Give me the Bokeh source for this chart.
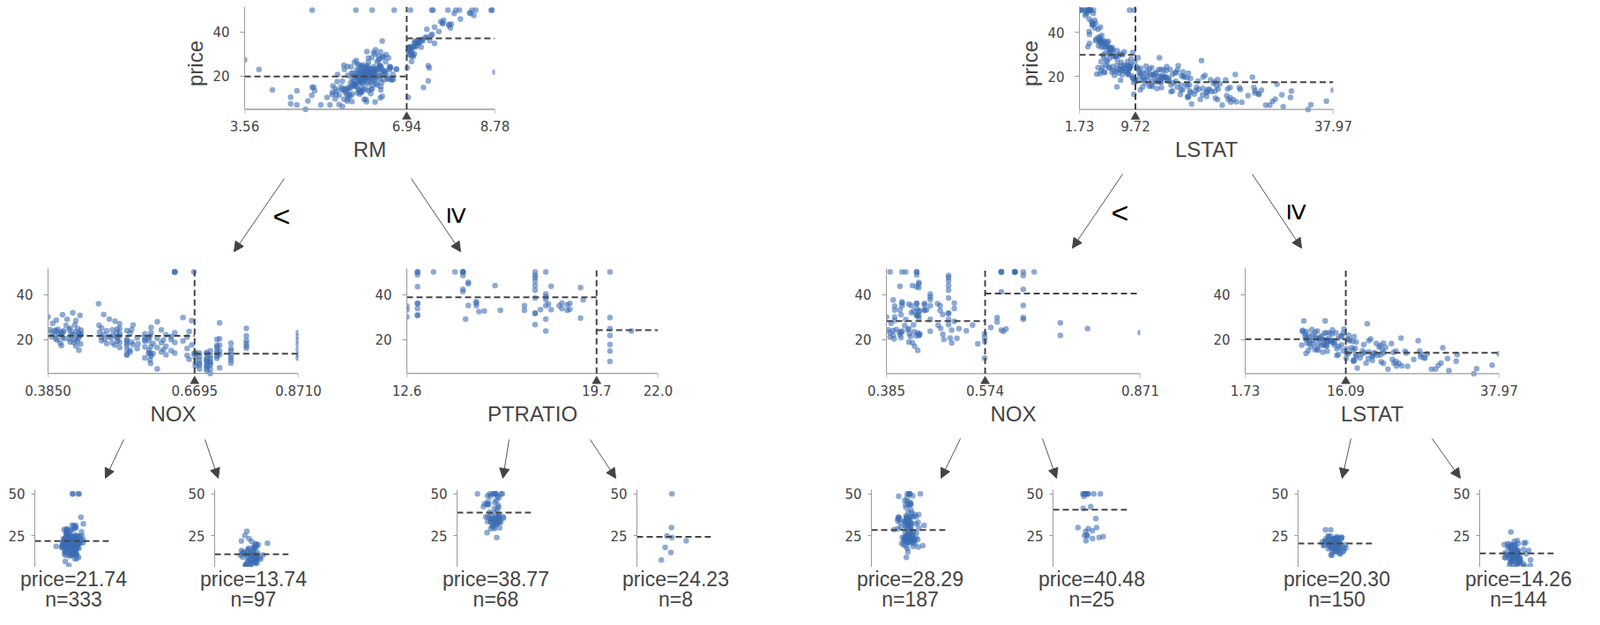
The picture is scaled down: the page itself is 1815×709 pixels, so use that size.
import numpy as np
from bokeh.plotting import figure
from bokeh.models import (Range1d, FixedTicker, PrintfTickFormatter, Spacer,
                          Arrow, NormalHead, ColumnDataSource)
from bokeh.layouts import row, column
from bokeh.transform import jitter
from bokeh.embed import file_html
from bokeh.resources import INLINE
from bokeh.core.properties import value

# ------------------------------------------------------------------ data
# records read/estimated from the scatter panels (RM, LSTAT, NOX, PTRATIO, price)
# group 1: houses with RM >= 6.94
r1_rm = [7.52, 7.24, 7.10, 8.70, 8.30, 8.25, 7.82, 7.42, 7.27, 7.15, 7.05, 6.98,
         7.96, 8.04, 7.49, 7.80, 8.38, 7.93, 7.52, 7.36, 7.05, 7.71, 7.65, 7.18,
         7.27, 7.20, 7.10, 7.00, 7.03, 7.69, 7.02, 7.16, 6.99, 7.46, 8.27, 8.34,
         8.06, 7.69, 7.85, 7.45, 7.02, 6.97, 7.04, 7.12, 8.72, 7.61, 7.47, 7.36,
         7.19, 7.08, 6.95, 7.11, 7.87, 7.08, 7.15, 7.24, 7.09, 7.20, 7.02, 7.15,
         7.00, 7.82, 7.00, 7.33, 7.02, 7.04, 7.39, 8.78, 7.39, 7.29, 6.97, 7.41]
r1_lstat = [3.16, 4.85, 5.98, 2.47, 3.13, 2.88, 3.57, 4.61, 5.05, 4.45, 6.05, 5.50,
            2.97, 3.26, 1.73, 1.92, 3.32, 3.70, 4.73, 4.40, 6.58, 3.92, 3.45, 5.71,
            4.10, 4.70, 5.49, 6.27, 5.90, 3.60, 6.12, 5.04, 6.41, 2.60, 2.65, 2.56,
            3.11, 4.03, 3.92, 4.92, 6.53, 7.11, 8.61, 5.42, 1.98, 3.11, 3.16, 4.65,
            4.97, 6.90, 8.97, 5.85, 3.66, 5.24, 4.81, 4.74, 5.68, 4.59, 6.04, 4.03,
            2.94, 3.57, 7.44, 4.38, 2.96, 5.12, 7.62, 5.29, 12.12, 13.44, 17.21, 6.02]
r1_nox = [0.401, 0.401, 0.401, 0.443, 0.443, 0.443, 0.443, 0.443, 0.443, 0.443, 0.443, 0.443,
          0.422, 0.415, 0.605, 0.605, 0.605, 0.647, 0.647, 0.605, 0.647, 0.447, 0.447, 0.647,
          0.415, 0.415, 0.415, 0.447, 0.437, 0.435, 0.448, 0.488, 0.488, 0.647, 0.504, 0.504,
          0.504, 0.504, 0.504, 0.504, 0.504, 0.504, 0.504, 0.462, 0.392, 0.469, 0.469, 0.469,
          0.469, 0.469, 0.469, 0.428, 0.411, 0.411, 0.433, 0.515, 0.515, 0.458, 0.458, 0.458,
          0.458, 0.447, 0.447, 0.398, 0.631, 0.597, 0.614, 0.718, 0.679, 0.700, 0.693, 0.609]
r1_ptratio = [12.6, 12.6, 12.6, 13.0, 13.0, 13.0, 13.0, 13.0, 13.0, 13.0, 13.0, 13.0,
              13.6, 14.4, 14.7, 14.7, 14.7, 14.7, 14.7, 14.7, 14.8, 14.9, 14.9, 14.9,
              15.2, 15.2, 15.2, 15.3, 15.5, 15.9, 16.1, 17.0, 17.0, 17.4, 17.4, 17.4,
              17.4, 17.4, 17.4, 17.4, 17.4, 17.4, 17.4, 17.6, 17.8, 17.8, 17.8, 17.8,
              17.8, 17.8, 17.8, 17.9, 18.0, 18.0, 18.3, 18.4, 18.4, 18.6, 18.6, 18.7,
              18.7, 19.1, 19.1, 19.2, 20.2, 20.2, 20.2, 20.2, 20.2, 20.2, 20.2, 21.0]
r1_price = [34.9, 33.2, 30.1, 50.0, 50.0, 48.8, 43.5, 36.2, 36.0, 33.8, 31.0, 30.7,
            50.0, 50.0, 50.0, 50.0, 50.0, 48.5, 42.3, 41.3, 29.1, 45.4, 44.8, 35.2,
            36.8, 36.3, 35.1, 32.4, 32.7, 44.0, 33.0, 35.1, 33.0, 50.0, 48.5, 47.6,
            46.0, 44.0, 41.9, 38.5, 31.9, 31.6, 26.7, 33.3, 50.0, 40.3, 39.0, 37.7,
            35.1, 29.1, 23.8, 35.8, 43.7, 33.3, 35.1, 36.3, 33.8, 35.5, 33.0, 36.1,
            33.4, 43.1, 29.6, 37.6, 50.0, 29.8, 24.8, 21.9, 17.9, 14.9, 10.4, 23.8]

# group 2: RM < 6.94 and NOX < 0.6695
r2_rm = [6.28, 6.58, 6.73, 5.96, 6.35, 6.17, 6.09, 6.52, 6.60, 6.44,
         5.89, 6.00, 6.05, 6.66, 6.23, 6.20, 6.12, 6.39, 6.47, 6.31,
         6.00, 6.10, 6.14, 6.45, 6.40, 6.33, 6.55, 5.95, 6.27, 5.82,
         6.29, 5.93, 6.63, 6.50, 5.88, 6.16, 6.42, 6.21, 6.03, 5.79,
         6.12, 6.20, 6.36, 6.40, 6.25, 6.48, 5.86, 6.07, 6.60, 5.98,
         6.43, 5.85, 6.72, 6.24, 6.30, 6.03, 6.11, 6.50, 5.92, 6.62,
         6.41, 6.27, 6.35, 6.65, 6.54, 5.78, 6.08, 6.14, 5.97, 6.19,
         6.17, 6.38, 6.06, 6.00, 5.90, 5.89, 6.12, 6.37, 6.01, 5.63,
         5.99, 6.25, 5.83, 6.05, 5.71, 5.82, 6.10, 5.94, 5.57, 6.58,
         5.76, 6.18, 5.70, 5.95, 6.32, 6.32, 5.88, 6.06, 6.45, 6.14,
         6.23, 5.81, 6.07, 6.02, 6.04, 5.50, 5.87, 5.91, 5.72, 5.66,
         6.42, 6.09, 6.14, 5.64, 5.77, 5.92, 5.39, 6.27, 5.58, 4.65,
         6.12, 5.85, 6.38, 5.69, 6.01, 6.25, 5.80, 6.15, 5.93, 6.30,
         5.48, 6.05, 5.75, 6.19, 5.61, 6.10, 3.86, 4.97, 6.68, 6.22,
         5.88, 6.51, 6.02, 5.87, 6.20, 5.65, 6.33, 5.53, 5.97, 6.56, 4.14]
r2_lstat = [7.56, 6.48, 7.20, 4.69, 5.57, 8.44, 5.90, 6.72, 9.88, 5.21,
            11.34, 9.04, 10.21, 10.56, 8.81, 12.60, 6.92, 8.12, 4.21, 7.73,
            4.38, 11.85, 7.69, 6.86, 8.96, 10.39, 9.43, 5.47, 6.57, 7.35,
            6.17, 14.10, 9.69, 4.82, 12.34, 8.01, 9.47, 13.15, 5.29, 10.97,
            15.84, 13.61, 7.47, 7.08, 9.33, 8.65, 11.48, 6.36, 9.95, 4.85,
            5.33, 5.70, 11.72, 10.55, 13.98, 7.10, 6.38, 8.20, 9.18, 12.86,
            12.04, 10.29, 6.92, 8.67, 9.71, 8.34, 16.50, 6.05, 9.80, 14.67,
            12.43, 11.25, 17.10, 7.83, 15.71, 19.15, 29.93, 13.45, 12.67, 8.10,
            14.80, 20.45, 11.69, 16.30, 18.35, 21.02, 4.98, 16.65, 10.74, 13.04,
            12.80, 17.58, 14.19, 18.66, 9.63, 11.98, 15.03, 7.60, 7.79, 8.68,
            13.28, 9.50, 9.32, 20.85, 16.47, 23.97, 12.13, 14.33, 17.32, 18.76,
            15.39, 21.45, 26.82, 13.77, 11.10, 9.04, 19.88, 22.60, 10.42, 28.90,
            12.27, 16.94, 9.10, 19.37, 14.52, 8.85, 17.12, 13.91, 15.10, 11.32,
            21.08, 12.90, 18.46, 10.88, 20.31, 14.10, 13.33, 3.26, 3.73, 9.53,
            8.88, 7.90, 13.61, 16.22, 11.76, 19.92, 10.50, 22.74, 15.49, 10.10, 37.97]
r2_nox = [0.385, 0.389, 0.392, 0.392, 0.394, 0.398, 0.398, 0.400, 0.401, 0.401,
          0.403, 0.404, 0.405, 0.409, 0.410, 0.411, 0.411, 0.413, 0.413, 0.414,
          0.415, 0.417, 0.420, 0.422, 0.426, 0.426, 0.428, 0.428, 0.429, 0.431,
          0.433, 0.433, 0.435, 0.437, 0.437, 0.438, 0.439, 0.439, 0.442, 0.442,
          0.443, 0.444, 0.445, 0.445, 0.447, 0.447, 0.448, 0.448, 0.449, 0.449,
          0.483, 0.484, 0.485, 0.488, 0.489, 0.489, 0.493, 0.493, 0.495, 0.499,
          0.499, 0.503, 0.504, 0.507, 0.510, 0.510, 0.511, 0.515, 0.515, 0.518,
          0.518, 0.519, 0.520, 0.520, 0.524, 0.524, 0.524, 0.524, 0.524, 0.524,
          0.538, 0.538, 0.538, 0.538, 0.538, 0.538, 0.538, 0.538, 0.544, 0.544,
          0.544, 0.547, 0.547, 0.550, 0.550, 0.558, 0.558, 0.560, 0.573, 0.573,
          0.573, 0.573, 0.573, 0.573, 0.580, 0.580, 0.581, 0.581, 0.583, 0.583,
          0.583, 0.584, 0.584, 0.585, 0.585, 0.585, 0.585, 0.589, 0.589, 0.597,
          0.597, 0.597, 0.597, 0.605, 0.605, 0.605, 0.609, 0.609, 0.614, 0.614,
          0.614, 0.624, 0.624, 0.624, 0.631, 0.631, 0.631, 0.631, 0.631, 0.631,
          0.668, 0.647, 0.647, 0.655, 0.655, 0.655, 0.659, 0.659, 0.664, 0.664, 0.668]
r2_ptratio = [19.7, 19.2, 18.3, 18.3, 18.6, 19.7, 19.7, 17.9, 17.9, 15.6,
              17.3, 16.9, 16.9, 17.9, 18.6, 18.0, 18.0, 16.9, 16.0, 16.0,
              18.4, 18.5, 18.7, 18.4, 17.8, 17.8, 17.8, 18.4, 18.2, 18.2,
              16.6, 16.6, 16.0, 15.8, 15.8, 15.5, 16.4, 16.4, 18.4, 18.4,
              17.8, 16.8, 16.8, 18.6, 18.6, 18.7, 18.7, 19.1, 19.1, 19.1,
              17.8, 17.8, 17.8, 17.4, 17.4, 17.4, 19.2, 19.2, 19.2, 19.6,
              19.6, 18.4, 17.4, 17.4, 18.6, 18.6, 18.6, 18.6, 18.6, 16.6,
              16.6, 16.6, 20.9, 20.9, 15.2, 15.2, 15.2, 15.2, 15.2, 15.2,
              21.0, 21.0, 21.0, 21.0, 21.0, 21.0, 15.3, 21.0, 18.4, 18.4,
              18.4, 17.8, 17.8, 17.8, 16.4, 16.4, 16.4, 16.4, 21.0, 21.0,
              21.0, 21.0, 21.0, 21.0, 20.2, 20.2, 19.1, 19.1, 20.2, 20.2,
              20.2, 20.2, 20.2, 20.2, 20.2, 20.2, 20.2, 20.2, 20.2, 20.2,
              20.2, 20.2, 20.2, 20.2, 20.2, 14.7, 20.2, 20.2, 20.2, 20.2,
              20.2, 20.2, 20.2, 20.2, 20.2, 20.2, 20.2, 20.2, 20.2, 20.2,
              20.2, 20.2, 20.2, 20.2, 20.2, 20.2, 20.2, 20.2, 20.2, 20.2, 20.2]
r2_price = [30.1, 24.4, 23.1, 21.2, 27.3, 22.0, 24.1, 20.4, 23.8, 28.6,
            19.8, 24.6, 22.9, 18.5, 23.4, 17.4, 22.2, 31.1, 21.0, 23.3,
            23.9, 20.5, 26.3, 29.0, 24.5, 20.3, 19.0, 25.0, 22.7, 21.4,
            32.0, 22.5, 18.7, 26.6, 20.0, 23.6, 17.2, 28.4, 21.7, 19.4,
            24.8, 20.6, 23.0, 15.3, 30.8, 22.1, 18.1, 21.9, 24.2, 22.6,
            36.0, 26.4, 23.3, 21.1, 19.5, 25.1, 31.2, 22.4, 20.2, 18.3,
            23.9, 21.5, 29.1, 20.8, 18.6, 24.3, 22.0, 28.2, 17.6, 23.1,
            21.2, 24.6, 19.3, 20.7, 22.9, 27.1, 16.5, 18.9, 21.7, 25.0,
            13.1, 18.4, 15.6, 20.2, 13.6, 17.5, 24.0, 19.6, 15.2, 23.0,
            14.5, 19.0, 24.4, 17.8, 26.5, 16.0, 20.8, 18.2, 22.6, 21.0,
            19.9, 11.9, 19.3, 16.8, 14.0, 20.8, 15.4, 19.5, 11.0, 14.2,
            21.6, 9.5, 13.5, 23.1, 17.0, 25.4, 12.7, 18.3, 13.9, 7.0,
            20.6, 16.5, 27.9, 14.6, 18.7, 24.3, 15.6, 19.8, 17.1, 22.2,
            13.3, 20.0, 15.1, 21.4, 14.1, 18.8, 23.1, 50.0, 50.0, 50.0,
            50.0, 29.8, 19.4, 16.1, 21.2, 13.0, 23.6, 11.3, 17.7, 28.4, 13.8]

# group 3: RM < 6.94 and NOX >= 0.6695 (one line per NOX level)
r3_rm = [6.13, 5.79, 6.15, 5.60, 5.40, 5.02, 5.47,
         6.38, 6.25, 6.11, 5.98, 6.03, 5.85,
         6.46, 6.23, 6.00, 5.94, 6.19, 5.76, 5.63,
         3.56, 5.71, 5.49, 4.97, 4.65, 4.52,
         6.38, 6.14, 6.31, 5.90, 6.08, 6.00, 5.75,
         5.00, 5.99, 5.39, 5.28, 4.88, 5.15, 4.83, 5.45,
         5.45, 5.68, 4.52, 4.96, 5.80, 5.95, 5.60, 6.39, 5.53, 6.10,
         6.20, 5.92, 6.43, 5.70, 5.34, 6.05,
         6.22, 6.40, 5.96, 5.71, 6.28]
r3_lstat = [8.79, 17.28, 26.42, 14.44, 21.32, 15.02, 16.14,
            8.54, 15.55, 19.37, 10.88, 13.35, 17.44,
            21.46, 14.81, 24.56, 17.50, 27.26, 19.88, 22.98,
            7.12, 19.65, 13.02, 23.24, 31.99, 17.73,
            16.59, 13.30, 21.78, 15.70, 24.71, 17.60, 19.31,
            26.64, 20.62, 30.62, 23.24, 36.98, 28.32, 34.37, 29.68,
            22.89, 18.13, 31.85, 25.79, 24.10, 27.71, 30.81, 21.14, 34.77, 23.34,
            20.08, 26.77, 17.16, 29.29, 22.11, 23.69,
            21.52, 16.23, 27.38, 18.98, 24.91]
r3_nox = [0.871, 0.871, 0.871, 0.871, 0.871, 0.871, 0.871,
          0.770, 0.770, 0.770, 0.770, 0.770, 0.770,
          0.740, 0.740, 0.740, 0.740, 0.740, 0.740, 0.740,
          0.718, 0.718, 0.718, 0.718, 0.718, 0.718,
          0.713, 0.713, 0.713, 0.713, 0.713, 0.713, 0.713,
          0.700, 0.700, 0.700, 0.700, 0.700, 0.700, 0.700, 0.700,
          0.693, 0.693, 0.693, 0.693, 0.693, 0.693, 0.693, 0.693, 0.693, 0.693,
          0.679, 0.679, 0.679, 0.679, 0.679, 0.679,
          0.671, 0.671, 0.671, 0.671, 0.671]
r3_ptratio = [14.7, 14.7, 14.7, 14.7, 14.7, 14.7, 14.7,
              20.2, 20.2, 20.2, 20.2, 20.2, 20.2,
              20.2, 20.2, 20.2, 20.2, 20.2, 20.2, 20.2,
              20.2, 20.2, 20.2, 20.2, 20.2, 20.2,
              20.2, 20.2, 20.2, 20.2, 20.2, 20.2, 20.2,
              20.2, 20.2, 20.2, 20.2, 20.2, 20.2, 20.2, 20.2,
              20.2, 20.2, 20.2, 20.2, 20.2, 20.2, 20.2, 20.2, 20.2, 20.2,
              20.2, 20.2, 20.2, 20.2, 20.2, 20.2,
              20.2, 20.2, 20.2, 20.2, 20.2]
r3_price = [23.2, 21.4, 19.6, 17.8, 15.6, 13.4, 11.8,
            25.0, 21.7, 19.6, 18.4, 17.2, 16.2,
            18.5, 16.1, 14.9, 13.4, 12.1, 10.9, 9.6,
            27.5, 20.4, 17.6, 15.0, 13.4, 7.5,
            20.1, 17.5, 16.7, 15.2, 14.1, 12.7, 11.7,
            15.0, 13.1, 11.7, 10.4, 8.8, 7.0, 5.0, 9.7,
            14.4, 12.0, 10.5, 11.3, 8.5, 13.8, 6.3, 10.2, 7.2, 8.4,
            14.1, 12.5, 10.9, 8.7, 7.0, 9.5,
            14.3, 13.8, 11.9, 9.6, 8.3]

# tree structure shown in the picture
features = ["RM", "NOX", "PTRATIO", "LSTAT"]
feature_lo = [3.561, 0.385, 12.6, 1.73]
feature_hi = [8.78, 0.871, 22.0, 37.97]
split_values = [6.94, 0.6695, 19.7, 9.72, 0.574, 16.09]   # RM, NOX, PTRATIO | LSTAT, NOX, LSTAT
leaf_means = [21.74, 13.74, 38.77, 24.23, 28.29, 40.48, 20.30, 14.26]
leaf_counts = [333, 97, 68, 8, 187, 25, 150, 144]
edge_labels = ["<", "\u2265"]
y_ticks_node = [20, 40]
y_ticks_leaf = [25, 50]

# ------------------------------------------------------------------ arrays
def cat(a, b, c):
    return np.array(a + b + c, dtype=float)

rm = cat(r1_rm, r2_rm, r3_rm)
lstat = cat(r1_lstat, r2_lstat, r3_lstat)
nox = cat(r1_nox, r2_nox, r3_nox)
ptratio = cat(r1_ptratio, r2_ptratio, r3_ptratio)
price = cat(r1_price, r2_price, r3_price)
N = min(len(rm), len(lstat), len(nox), len(ptratio), len(price))
rm, lstat, nox, ptratio, price = rm[:N], lstat[:N], nox[:N], ptratio[:N], price[:N]

# ------------------------------------------------------------------ style
BLUE = "#3b6cb3"
DARK = "#444444"
AXIS = "#9b9b9b"
LABEL_FONT = "Liberation Sans"
TICK_FONT = "DejaVu Sans"
Y_LO, Y_HI = 5.0, 51.6
LEAF_LO, LEAF_HI = 6.0, 52.5
PT_SIZE = 6.5
PT_ALPHA = 0.58
DASH = "7 4"
EXT = 13          # px below the x axis line kept inside the frame (split marker)


def base_fig(width, height, border, x_range, y_range, x_axis=True):
    bl, br, bt, bb = border
    p = figure(width=width, height=height,
               x_range=x_range, y_range=y_range,
               min_border_left=bl, min_border_right=br,
               min_border_top=bt, min_border_bottom=bb,
               toolbar_location=None, output_backend="svg",
               x_axis_location="below" if x_axis else None,
               outline_line_color=None, background_fill_color="white",
               border_fill_color="white")
    p.grid.visible = False
    for ax in p.axis:
        ax.axis_line_color = AXIS
        ax.axis_line_width = 1
        ax.major_tick_line_color = AXIS
        ax.minor_tick_line_color = None
        ax.major_tick_out = 5
        ax.major_tick_in = 0
        ax.major_label_text_font = TICK_FONT
        ax.major_label_text_font_size = "15px"
        ax.major_label_text_color = DARK
        ax.axis_label_text_font = LABEL_FONT
        ax.axis_label_text_font_size = "24px"
        ax.axis_label_text_font_style = "normal"
        ax.axis_label_text_color = DARK
    p.yaxis.major_label_standoff = 12
    return p


def split_panel(xv, yv, frame, border, fi, split, m_left, m_right, fmt, ylabel=None):
    lo, hi = feature_lo[fi], feature_hi[fi]
    fx, fy, fw, fh = frame
    bl, br, bt, bb = border
    ppu = fh / (Y_HI - Y_LO)
    y_start = Y_LO - EXT / ppu
    p = base_fig(fw + bl + br, fh + bt + bb, (bl, br, bt, bb - EXT),
                 Range1d(lo, hi), Range1d(y_start, Y_HI))
    p.scatter(xv, yv, size=PT_SIZE, fill_color=BLUE, fill_alpha=PT_ALPHA, line_color=None)
    # x axis line and end ticks
    p.segment(x0=[lo, lo, hi], y0=[Y_LO, Y_LO, Y_LO],
              x1=[hi, lo, hi], y1=[Y_LO, Y_LO - 5 / ppu, Y_LO - 5 / ppu],
              line_color=AXIS, line_width=1.3)
    # split and child means
    p.segment(x0=[split, lo, split], y0=[Y_LO, m_left, m_right],
              x1=[split, split, hi], y1=[Y_HI, m_left, m_right],
              line_color=DARK, line_width=2, line_dash=DASH)
    p.scatter([split], [Y_LO - 8.8 / ppu], marker="triangle", size=10,
              fill_color=DARK, line_color=DARK, line_width=0.5)
    p.xaxis.axis_line_color = None
    p.xaxis.major_tick_line_color = None
    p.xaxis.major_tick_out = 0
    p.xaxis.ticker = FixedTicker(ticks=[lo, split, hi])
    p.xaxis.formatter = PrintfTickFormatter(format=fmt)
    p.xaxis.major_label_standoff = 0
    p.xaxis.axis_label = features[fi]
    p.xaxis.axis_label_standoff = 4
    p.yaxis.ticker = FixedTicker(ticks=y_ticks_node)
    p.yaxis.bounds = (Y_LO, Y_HI)
    if ylabel:
        p.yaxis.axis_label = ylabel
        p.yaxis.axis_label_standoff = 3
    return p


def leaf_panel(yv, fw, fh, border, mean):
    bl, br, bt, bb = border
    p = base_fig(fw + bl + br, fh + bt + bb, border, Range1d(0, 1),
                 Range1d(LEAF_LO, LEAF_HI), x_axis=False)
    src = ColumnDataSource(dict(x=[0.5] * len(yv), y=list(yv)))
    p.scatter(x=jitter("x", width=0.075, distribution="normal", range=p.x_range), y="y",
              source=src, size=PT_SIZE, fill_color=BLUE, fill_alpha=PT_ALPHA, line_color=None)
    p.segment(x0=[0], y0=[mean], x1=[1], y1=[mean], line_color=DARK, line_width=2, line_dash=DASH)
    p.yaxis.ticker = FixedTicker(ticks=y_ticks_leaf)
    p.yaxis.major_tick_out = 4
    p.yaxis.major_label_standoff = 7
    return p


def strip(y_top, height, segs=None):
    p = figure(width=1799, height=height, x_range=Range1d(8, 1807),
               y_range=Range1d(y_top + height, y_top),
               min_border=0, toolbar_location=None, output_backend="svg",
               x_axis_location=None, y_axis_location=None,
               outline_line_color=None)
    p.grid.visible = False
    if segs:
        x0, y0, x1, y1 = zip(*segs)
        src = ColumnDataSource(dict(x0=x0, y0=y0, x1=x1, y1=y1))
        p.add_layout(Arrow(end=NormalHead(size=11, fill_color=DARK, line_color=DARK),
                           x_start="x0", y_start="y0", x_end="x1", y_end="y1",
                           source=src, line_color="#555555", line_width=1))
    return p


def put_text(p, xs, ys, texts, size, color, angle=0.0, baseline="middle"):
    p.text(x=list(xs), y=list(ys), text=list(texts), text_font=value(LABEL_FONT),
           text_font_size=size, text_align="center", text_baseline=baseline,
           text_line_height=1.0, text_color=color, angle=angle)

# ------------------------------------------------------------------ masks
s_rm, s_nox_l, s_ptr, s_ls, s_nox_r, s_ls2 = split_values
mL = rm < s_rm
mR = lstat < s_ls
leaf_sets = [price[mL & (nox < s_nox_l)], price[mL & (nox >= s_nox_l)],
             price[~mL & (ptratio < s_ptr)], price[~mL & (ptratio >= s_ptr)],
             price[mR & (nox < s_nox_r)], price[mR & (nox >= s_nox_r)],
             price[~mR & (lstat < s_ls2)], price[~mR & (lstat >= s_ls2)]]


def wmean(i, j):
    return (leaf_means[i] * leaf_counts[i] + leaf_means[j] * leaf_counts[j]) / (leaf_counts[i] + leaf_counts[j])

# ------------------------------------------------------------------ layout (page px)
ROW_A_H, STRIP_B_H, ROW_C_H, STRIP_D_H, ROW_E_H, STRIP_F_H = 194, 98, 198, 57, 96, 50
Y_B, Y_D, Y_F = 202, 498, 651

top_l = split_panel(rm, price, (285, 15, 284, 121), (80, 30, 7, 66), 0, s_rm,
                    wmean(0, 1), wmean(2, 3), "%.2f", ylabel="price")
top_r = split_panel(lstat, price, (1232, 8, 288, 123), (80, 30, 0, 71), 3, s_ls,
                    wmean(4, 5), wmean(6, 7), "%.2f", ylabel="price")
row_a = row(Spacer(width=205 - 8, height=ROW_A_H), top_l,
            Spacer(width=1152 - 599, height=ROW_A_H), top_r)

strip_b = strip(Y_B, STRIP_B_H,
                segs=[(330, 210, 273, 293), (474, 210, 530, 293),
                      (1281, 205, 1224, 289), (1428, 205, 1484, 289)])
put_text(strip_b, [327, 1278], [252, 248], [edge_labels[0]] * 2, "34px", "black")
put_text(strip_b, [527, 1480], [252, 248], [edge_labels[1]] * 2, "34px", "black",
         angle=-np.pi / 2)

mid1 = split_panel(nox[mL], price[mL], (62, 312, 284, 121), (54, 30, 12, 65), 1, s_nox_l,
                   leaf_means[0], leaf_means[1], "%.4f")
mid2 = split_panel(ptratio[~mL], price[~mL], (469, 312, 285, 121), (54, 30, 12, 65), 2, s_ptr,
                   leaf_means[2], leaf_means[3], "%.1f")
mid3 = split_panel(nox[mR], price[mR], (1013, 308, 288, 123), (54, 30, 8, 67), 1, s_nox_r,
                   leaf_means[4], leaf_means[5], "%.3f")
mid4 = split_panel(lstat[~mR], price[~mR], (1420, 308, 288, 123), (54, 30, 8, 67), 3, s_ls2,
                   leaf_means[6], leaf_means[7], "%.2f")
row_c = row(mid1, Spacer(width=415 - 376, height=ROW_C_H), mid2,
            Spacer(width=959 - 784, height=ROW_C_H), mid3,
            Spacer(width=1366 - 1331, height=ROW_C_H), mid4)

strip_d = strip(Y_D, STRIP_D_H,
                segs=[(148, 506, 127, 550), (240, 506, 255, 550),
                      (585, 506, 578, 550), (677, 506, 706, 550),
                      (1097, 505, 1075, 550), (1190, 505, 1206, 550),
                      (1540, 505, 1530, 550), (1632, 505, 1664, 550)])

leaf_x = [47, 251, 526, 730, 996, 1202, 1480, 1686]
LEAF_W, LEAF_H, LEAF_BL, LEAF_BR, LEAF_BT = 84, 88, 38, 10, 8
children = []
prev_right = 8
for k, fx in enumerate(leaf_x):
    left = fx - LEAF_BL
    children.append(Spacer(width=left - prev_right, height=ROW_E_H))
    children.append(leaf_panel(leaf_sets[k], LEAF_W, LEAF_H,
                               (LEAF_BL, LEAF_BR, LEAF_BT, ROW_E_H - LEAF_BT - LEAF_H),
                               leaf_means[k]))
    prev_right = fx + LEAF_W + LEAF_BR
row_e = row(*children)

strip_f = strip(Y_F, STRIP_F_H)
label_x = [fx + LEAF_W / 2 + 2 for fx in leaf_x]
put_text(strip_f, label_x, [651.5] * 8, [f"price={m:.2f}" for m in leaf_means], "23px", DARK,
         baseline="top")
put_text(strip_f, label_x, [700.5] * 8, [f"n={c}" for c in leaf_counts], "23px", DARK,
         baseline="bottom")

layout = column(row_a, strip_b, row_c, strip_d, row_e, strip_f)

open("out.html", "w").write(file_html(layout, INLINE, "Decision trees"))
